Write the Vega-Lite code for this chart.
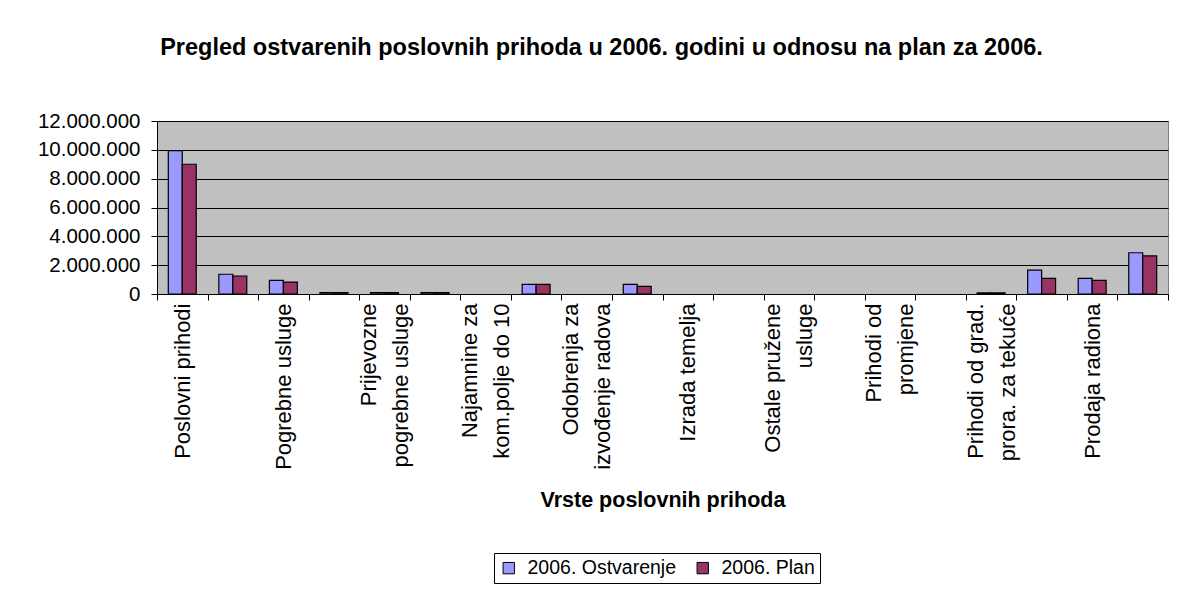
{
  "$schema": "https://vega.github.io/schema/vega-lite/v6.json",
  "width": 1011,
  "height": 173,
  "autosize": {"type": "none"},
  "padding": {"left": 157, "top": 121, "right": 9, "bottom": 297},
  "background": "white",
  "title": {
    "text": "Pregled ostvarenih poslovnih prihoda u 2006. godini u odnosu na plan za 2006.",
    "font": "Liberation Sans",
    "fontSize": 23.5,
    "fontWeight": "bold",
    "color": "black",
    "offset": 52,
    "dx": -61
  },
  "config": {
    "font": "Liberation Sans",
    "view": {"fill": "#C0C0C0", "stroke": "#808080", "strokeWidth": 1}
  },
  "data": {
    "values": [
      {"kategorija": "Poslovni prihodi", "serija": "2006. Ostvarenje", "iznos": 9950000},
      {"kategorija": "Poslovni prihodi", "serija": "2006. Plan", "iznos": 9000000},
      {"kategorija": "neimenovano 2", "serija": "2006. Ostvarenje", "iznos": 1370000},
      {"kategorija": "neimenovano 2", "serija": "2006. Plan", "iznos": 1250000},
      {"kategorija": "Pogrebne usluge", "serija": "2006. Ostvarenje", "iznos": 950000},
      {"kategorija": "Pogrebne usluge", "serija": "2006. Plan", "iznos": 830000},
      {"kategorija": "neimenovano 4", "serija": "2006. Ostvarenje", "iznos": 100000},
      {"kategorija": "neimenovano 4", "serija": "2006. Plan", "iznos": 95000},
      {"kategorija": "Prijevozne|pogrebne usluge", "serija": "2006. Ostvarenje", "iznos": 100000},
      {"kategorija": "Prijevozne|pogrebne usluge", "serija": "2006. Plan", "iznos": 95000},
      {"kategorija": "neimenovano 6", "serija": "2006. Ostvarenje", "iznos": 90000},
      {"kategorija": "neimenovano 6", "serija": "2006. Plan", "iznos": 90000},
      {"kategorija": "Najamnine za|kom.polje do 10", "serija": "2006. Ostvarenje", "iznos": 0},
      {"kategorija": "Najamnine za|kom.polje do 10", "serija": "2006. Plan", "iznos": 0},
      {"kategorija": "neimenovano 8", "serija": "2006. Ostvarenje", "iznos": 670000},
      {"kategorija": "neimenovano 8", "serija": "2006. Plan", "iznos": 670000},
      {"kategorija": "Odobrenja za|izvođenje radova", "serija": "2006. Ostvarenje", "iznos": 0},
      {"kategorija": "Odobrenja za|izvođenje radova", "serija": "2006. Plan", "iznos": 0},
      {"kategorija": "neimenovano 10", "serija": "2006. Ostvarenje", "iznos": 670000},
      {"kategorija": "neimenovano 10", "serija": "2006. Plan", "iznos": 530000},
      {"kategorija": "Izrada temelja", "serija": "2006. Ostvarenje", "iznos": 0},
      {"kategorija": "Izrada temelja", "serija": "2006. Plan", "iznos": 0},
      {"kategorija": "neimenovano 12", "serija": "2006. Ostvarenje", "iznos": 0},
      {"kategorija": "neimenovano 12", "serija": "2006. Plan", "iznos": 0},
      {"kategorija": "Ostale pružene|usluge", "serija": "2006. Ostvarenje", "iznos": 0},
      {"kategorija": "Ostale pružene|usluge", "serija": "2006. Plan", "iznos": 0},
      {"kategorija": "neimenovano 14", "serija": "2006. Ostvarenje", "iznos": 0},
      {"kategorija": "neimenovano 14", "serija": "2006. Plan", "iznos": 0},
      {"kategorija": "Prihodi od|promjene", "serija": "2006. Ostvarenje", "iznos": 0},
      {"kategorija": "Prihodi od|promjene", "serija": "2006. Plan", "iznos": 0},
      {"kategorija": "neimenovano 16", "serija": "2006. Ostvarenje", "iznos": 0},
      {"kategorija": "neimenovano 16", "serija": "2006. Plan", "iznos": 0},
      {"kategorija": "Prihodi od grad.|prora. za tekuće", "serija": "2006. Ostvarenje", "iznos": 80000},
      {"kategorija": "Prihodi od grad.|prora. za tekuće", "serija": "2006. Plan", "iznos": 80000},
      {"kategorija": "neimenovano 18", "serija": "2006. Ostvarenje", "iznos": 1660000},
      {"kategorija": "neimenovano 18", "serija": "2006. Plan", "iznos": 1090000},
      {"kategorija": "Prodaja radiona", "serija": "2006. Ostvarenje", "iznos": 1090000},
      {"kategorija": "Prodaja radiona", "serija": "2006. Plan", "iznos": 950000},
      {"kategorija": "neimenovano 20", "serija": "2006. Ostvarenje", "iznos": 2860000},
      {"kategorija": "neimenovano 20", "serija": "2006. Plan", "iznos": 2640000}
    ]
  },
  "mark": {"type": "bar", "stroke": "black"},
  "encoding": {
    "x": {
      "field": "kategorija",
      "type": "nominal",
      "sort": null,
      "scale": {"paddingInner": 0, "paddingOuter": 0},
      "axis": {
        "title": "Vrste poslovnih prihoda",
        "titleFontSize": 21.5,
        "titleFontWeight": "bold",
        "titleColor": "black",
        "titlePadding": 20,
        "labelExpr": "isString(datum.value) ? (test(/^neimenovano/, datum.value) ? '' : split(datum.value, '|')) : ''",
        "labelAngle": 270,
        "labelFontSize": 22,
        "labelColor": "black",
        "labelPadding": 3,
        "labelLineHeight": 32,
        "labelOffset": {
          "condition": {"test": "isString(datum.value) && indexof(datum.value, '|') >= 0", "value": -16},
          "value": 0
        },
        "labelOverlap": false,
        "labelLimit": 300,
        "tickBand": "extent",
        "tickSize": 6,
        "tickColor": "black",
        "domainColor": "black",
        "grid": false
      }
    },
    "xOffset": {
      "field": "serija",
      "type": "nominal",
      "scale": {"paddingInner": 0, "paddingOuter": 0.81}
    },
    "y": {
      "field": "iznos",
      "type": "quantitative",
      "scale": {"domain": [0, 12000000], "nice": false},
      "axis": {
        "title": null,
        "values": [0, 2000000, 4000000, 6000000, 8000000, 10000000, 12000000],
        "labelExpr": "replace(format(datum.value, ',d'), /,/g, '.')",
        "labelFontSize": 20.5,
        "labelColor": "black",
        "labelPadding": 11,
        "tickSize": 6,
        "tickColor": "black",
        "domainColor": "black",
        "grid": true,
        "gridColor": "black",
        "gridOpacity": 1,
        "gridWidth": 1
      }
    },
    "strokeWidth": {
      "condition": {"test": "datum.iznos > 0", "value": 1.2},
      "value": 0
    },
    "color": {
      "field": "serija",
      "type": "nominal",
      "scale": {"domain": ["2006. Ostvarenje", "2006. Plan"], "range": ["#9999FF", "#993366"]},
      "legend": {
        "title": null,
        "orient": "none",
        "legendX": 337,
        "legendY": 432,
        "direction": "horizontal",
        "strokeColor": "black",
        "fillColor": "white",
        "padding": 5,
        "symbolType": "square",
        "symbolSize": 130,
        "symbolStrokeColor": "black",
        "symbolStrokeWidth": 1,
        "labelFontSize": 19.5,
        "labelColor": "black",
        "labelOffset": 9,
        "columnPadding": 16
      }
    }
  }
}
